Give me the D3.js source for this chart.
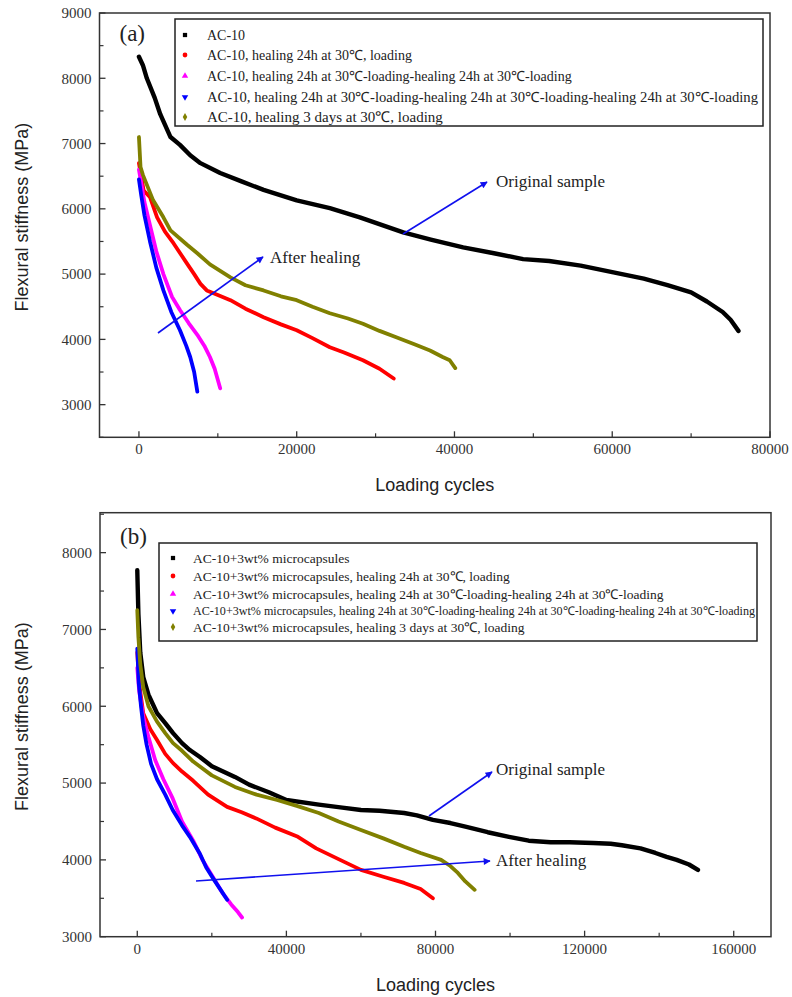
<!DOCTYPE html>
<html lang="en">
  <head>
    <meta charset="UTF-8" />
    <title>Flexural stiffness vs loading cycles</title>
    <script src="https://cdn.jsdelivr.net/npm/d3@7"></script>
    <style>
      body { margin: 0; background: #fff; }
      svg { display: block; }
      .tick-label { font-family: "Liberation Serif", serif; font-size: 15px; fill: #333; }
      .axis-title { font-family: "Liberation Sans", Arial, sans-serif; font-size: 18px; fill: #222; }
      .legend-text { font-family: "Liberation Serif", serif; fill: #222; }
      .note { font-family: "Liberation Serif", serif; font-size: 17px; fill: #222; }
    </style>
  </head>
  <body>
    <script>
      // ---- data: [loading cycles, flexural stiffness MPa] ----
      const aOriginal = [[0,8330],[500,8200],[1000,8000],[2000,7700],[2700,7450],[4000,7100],[5200,6980],[6500,6820],[7800,6700],[10300,6550],[13000,6420],[15800,6290],[20000,6130],[24200,6010],[28000,5870],[33500,5640],[37000,5530],[41100,5410],[45000,5320],[48700,5230],[52000,5200],[56000,5130],[60000,5030],[64000,4930],[67000,4830],[70000,4720],[72000,4580],[74000,4420],[75000,4300],[76000,4130]];
      const aHeal1 = [[0,6700],[600,6280],[1400,6180],[2300,5870],[3300,5650],[4400,5470],[6100,5160],[7000,5000],[7800,4850],[8600,4750],[10000,4680],[11600,4600],[13500,4470],[15800,4340],[18000,4230],[20000,4140],[22000,4020],[24200,3880],[26000,3800],[28400,3680],[30500,3550],[32300,3400]];
      const aHeal2 = [[0,6600],[700,6100],[1400,5750],[2200,5350],[3100,5000],[4200,4650],[5200,4450],[6300,4250],[7400,4070],[8300,3900],[9000,3730],[9600,3550],[10300,3250]];
      const aHeal3 = [[0,6450],[300,6200],[700,5900],[1400,5500],[2200,5100],[3100,4750],[4100,4420],[5200,4140],[6000,3900],[6500,3730],[7000,3500],[7400,3200]];
      const aHeal3d = [[0,7100],[200,6640],[500,6520],[1800,6130],[3100,5870],[4000,5670],[6100,5450],[7400,5320],[9000,5150],[11600,4950],[13500,4830],[15800,4750],[18000,4660],[20000,4600],[22000,4500],[24200,4400],[26500,4320],[28400,4240],[30500,4130],[32700,4030],[35000,3920],[36900,3830],[38500,3730],[39400,3680],[40100,3560]];

      const bOriginal = [[0,7770],[300,7200],[800,6700],[1600,6380],[3000,6150],[5300,5910],[7500,5780],[9600,5650],[12000,5520],[14100,5430],[16800,5340],[20000,5220],[26200,5080],[30000,4980],[35300,4880],[40000,4780],[48700,4720],[55000,4680],[60000,4650],[65000,4640],[71600,4610],[75000,4580],[79300,4520],[84000,4480],[88300,4430],[94000,4360],[99700,4300],[105000,4250],[110900,4230],[116000,4230],[122300,4220],[127000,4210],[130000,4190],[135000,4150],[139000,4090],[142000,4040],[144700,4000],[148000,3940],[150400,3870]];
      const bHeal1 = [[0,6700],[500,6300],[1600,5910],[3500,5700],[5300,5560],[7500,5380],[9600,5260],[12000,5150],[15000,5030],[19000,4850],[24100,4690],[28000,4620],[31900,4540],[37000,4420],[43100,4300],[48000,4150],[54400,4000],[60000,3870],[66000,3780],[71600,3700],[76000,3620],[79300,3500]];
      const bHeal2 = [[0,6500],[500,6200],[1600,5860],[3000,5600],[4800,5300],[7000,5050],[9500,4800],[12000,4500],[15000,4250],[17500,4000],[20600,3750],[23000,3560],[25200,3420],[27000,3320],[28100,3250]];
      const bHeal3 = [[0,6750],[400,6300],[1000,6000],[1600,5750],[2500,5500],[3700,5250],[5300,5050],[7500,4850],[9500,4650],[12000,4450],[14100,4300],[16800,4080],[18500,3900],[20600,3740],[22500,3600],[24100,3480]];
      const bHeal3d = [[0,7250],[300,6900],[800,6550],[1600,6250],[3000,6000],[5300,5800],[7500,5650],[9600,5520],[12000,5420],[15000,5280],[20000,5100],[26200,4950],[32000,4850],[37500,4780],[43000,4700],[48700,4610],[54000,4500],[60000,4390],[66000,4280],[71600,4170],[76000,4090],[81500,4000],[84000,3920],[86000,3830],[88000,3720],[90500,3610]];

      const legendA = [
        "AC-10",
        "AC-10, healing 24h at 30℃, loading",
        "AC-10, healing 24h at 30℃-loading-healing 24h at 30℃-loading",
        "AC-10, healing 24h at 30℃-loading-healing 24h at 30℃-loading-healing 24h at 30℃-loading",
        "AC-10, healing 3 days at 30℃, loading"
      ];
      const legendB = [
        "AC-10+3wt% microcapsules",
        "AC-10+3wt% microcapsules, healing 24h at 30℃, loading",
        "AC-10+3wt% microcapsules, healing 24h at 30℃-loading-healing 24h at 30℃-loading",
        "AC-10+3wt% microcapsules, healing 24h at 30℃-loading-healing 24h at 30℃-loading-healing 24h at 30℃-loading",
        "AC-10+3wt% microcapsules, healing 3 days at 30℃, loading"
      ];
      const colors = ["#000000", "#ff0000", "#ff00ff", "#0000ff", "#808000"];
      const symbols = [d3.symbolSquare, d3.symbolCircle, d3.symbolTriangle, d3.symbolTriangle, d3.symbolDiamond];
      const xTicksA = [0, 20000, 40000, 60000, 80000];
      const yTicksA = [3000, 4000, 5000, 6000, 7000, 8000, 9000];
      const xTicksB = [0, 40000, 80000, 120000, 160000];
      const yTicksB = [3000, 4000, 5000, 6000, 7000, 8000];

      const width = 792, height = 997;
      const svg = d3.select("body").append("svg").attr("width", width).attr("height", height);

      svg.append("defs").append("marker")
        .attr("id", "arrow")
        .attr("viewBox", "0 0 10 10")
        .attr("refX", 9).attr("refY", 5)
        .attr("markerWidth", 10).attr("markerHeight", 7)
        .attr("markerUnits", "userSpaceOnUse")
        .attr("orient", "auto")
        .append("path").attr("d", "M0,0L10,5L0,10Z").attr("fill", "#1010ee");

      function drawPanel(p) {
        const x = d3.scaleLinear().domain(p.xDomain).range([p.left, p.right]);
        const y = d3.scaleLinear().domain(p.yDomain).range([p.bottom, p.top]);
        const g = svg.append("g");

        // minor + major ticks, pointing inward
        const yMinor = d3.range(p.yDomain[0], p.yDomain[1] + 1, 500).filter(v => v % 1000 !== 0);
        const xMinor = d3.range(0, p.xDomain[1] + 1, p.xMinorStep).filter(v => !p.xTicks.includes(v));
        g.selectAll(".ytm").data(p.yTicks).join("line")
          .attr("x1", p.left).attr("x2", p.left + 6).attr("y1", d => y(d)).attr("y2", d => y(d))
          .attr("stroke", "#333").attr("stroke-width", 1.3);
        g.selectAll(".ytn").data(yMinor).join("line")
          .attr("x1", p.left).attr("x2", p.left + 4).attr("y1", d => y(d)).attr("y2", d => y(d))
          .attr("stroke", "#333").attr("stroke-width", 1.2);
        g.selectAll(".xtm").data(p.xTicks).join("line")
          .attr("x1", d => x(d)).attr("x2", d => x(d)).attr("y1", p.bottom).attr("y2", p.bottom - 6)
          .attr("stroke", "#333").attr("stroke-width", 1.3);
        g.selectAll(".xtn").data(xMinor).join("line")
          .attr("x1", d => x(d)).attr("x2", d => x(d)).attr("y1", p.bottom).attr("y2", p.bottom - 4)
          .attr("stroke", "#333").attr("stroke-width", 1.2);

        g.selectAll(".ylab").data(p.yTicks).join("text")
          .attr("class", "tick-label").attr("x", p.left - 8).attr("y", d => y(d))
          .attr("dy", "0.35em").attr("text-anchor", "end").text(d => d);
        g.selectAll(".xlab").data(p.xTicks).join("text")
          .attr("class", "tick-label").attr("x", d => x(d)).attr("y", p.bottom + 17)
          .attr("text-anchor", "middle").text(d => d);

        g.append("text").attr("class", "axis-title")
          .attr("transform", `translate(28,${(p.top + p.bottom) / 2 - 8}) rotate(-90)`)
          .attr("text-anchor", "middle").text("Flexural stiffness (MPa)");
        g.append("text").attr("class", "axis-title")
          .attr("x", (p.left + p.right) / 2).attr("y", p.bottom + 54)
          .attr("text-anchor", "middle").text("Loading cycles");

        // curves
        const line = d3.line().x(d => x(d[0])).y(d => y(d[1]));
        p.series.forEach((s, i) => {
          g.append("path").datum(s).attr("d", line)
            .attr("fill", "none").attr("stroke", colors[i])
            .attr("stroke-width", i === 0 ? 4.4 : 3.8)
            .attr("stroke-linejoin", "round").attr("stroke-linecap", "round");
        });

        // frame
        g.append("rect").attr("x", p.left).attr("y", p.top)
          .attr("width", p.right - p.left).attr("height", p.bottom - p.top)
          .attr("fill", "none").attr("stroke", "#333").attr("stroke-width", 1.5);

        g.append("text").attr("class", "legend-text").attr("x", p.left + 20).attr("y", p.top + p.tagDy)
          .attr("font-size", 23).text(p.tag);

        // legend
        const L = p.legend;
        g.append("rect").attr("x", L.x0).attr("y", L.y0).attr("width", L.x1 - L.x0).attr("height", L.y1 - L.y0)
          .attr("fill", "#fff").attr("stroke", "#222").attr("stroke-width", 1.5);
        p.labels.forEach((t, i) => {
          const yy = L.rows[i];
          g.append("path")
            .attr("d", d3.symbol().type(symbols[i]).size(18)())
            .attr("transform", `translate(${L.mx},${yy})` + (i === 3 ? " rotate(180)" : ""))
            .attr("fill", colors[i]);
          const tx = g.append("text").attr("class", "legend-text")
            .attr("x", L.tx).attr("y", yy).attr("dy", "0.35em")
            .attr("font-size", L.sizes[i]).text(t);
          if (L.lengths[i]) tx.attr("textLength", L.lengths[i]).attr("lengthAdjust", "spacingAndGlyphs");
        });

        // annotations
        p.notes.forEach(n => {
          g.append("line").attr("x1", n.from[0]).attr("y1", n.from[1]).attr("x2", n.to[0]).attr("y2", n.to[1])
            .attr("stroke", "#1010ee").attr("stroke-width", 1.6).attr("marker-end", "url(#arrow)");
          g.append("text").attr("class", "note").attr("x", n.tx).attr("y", n.ty).attr("dy", "0.35em").text(n.text);
        });
      }

      drawPanel({
        left: 99.5, right: 770, top: 13, bottom: 437.3,
        xDomain: [-5000, 80000], yDomain: [2500, 9000], xMinorStep: 10000,
        xTicks: xTicksA, yTicks: yTicksA,
        series: [aOriginal, aHeal1, aHeal2, aHeal3, aHeal3d],
        tag: "(a)", tagDy: 28,
        labels: legendA,
        legend: { x0: 175, x1: 763, y0: 19, y1: 126, mx: 185, tx: 207,
          rows: [35, 55, 76, 97, 117], sizes: [14, 14, 14, 14, 15], lengths: [0, 0, 0, 551, 0] },
        notes: [
          { from: [403, 234], to: [487, 182], tx: 496, ty: 181, text: "Original sample" },
          { from: [158, 333], to: [263, 257], tx: 270, ty: 257, text: "After healing" }
        ]
      });

      drawPanel({
        left: 100, right: 771, top: 512.7, bottom: 936.7,
        xDomain: [-10000, 170000], yDomain: [3000, 8520], xMinorStep: 20000,
        xTicks: xTicksB, yTicks: yTicksB,
        series: [bOriginal, bHeal1, bHeal2, bHeal3, bHeal3d],
        tag: "(b)", tagDy: 31,
        labels: legendB,
        legend: { x0: 159, x1: 757, y0: 543, y1: 641, mx: 173, tx: 193,
          rows: [558, 576, 594, 611, 627], sizes: [13.5, 13.5, 13.5, 12, 13.5], lengths: [0, 0, 0, 562, 0] },
        notes: [
          { from: [429, 816], to: [492, 772], tx: 496, ty: 769, text: "Original sample" },
          { from: [196, 881], to: [490, 861], tx: 496, ty: 860, text: "After healing" }
        ]
      });
    </script>
  </body>
</html>
